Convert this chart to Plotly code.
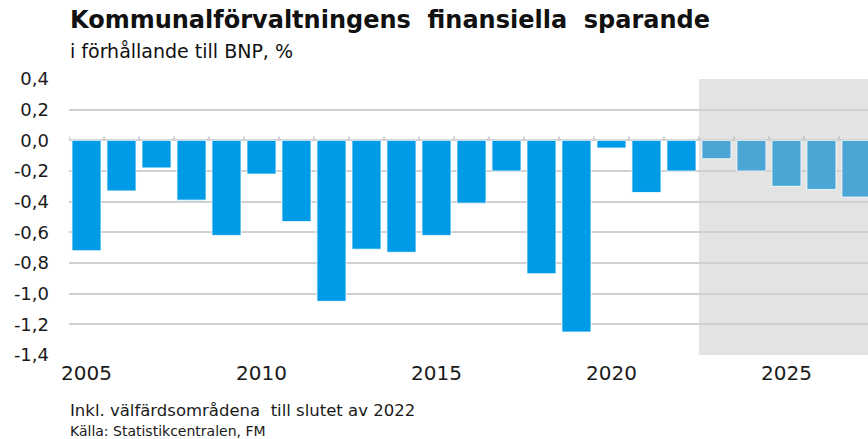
import plotly.graph_objects as go

# Kommunalförvaltningens finansiella sparande, % av BNP
years = list(range(2005, 2028))
sparande = [-0.72, -0.33, -0.18, -0.39, -0.62, -0.22, -0.53, -1.05, -0.71, -0.73,
            -0.62, -0.41, -0.20, -0.87, -1.25, -0.05, -0.34, -0.20,
            -0.12, -0.20, -0.30, -0.32, -0.37]
first_forecast_year = 2023

y_ticks = [0.4, 0.2, 0.0, -0.2, -0.4, -0.6, -0.8, -1.0, -1.2, -1.4]
y_ticklabels = ["0,4", "0,2", "0,0", "-0,2", "-0,4", "-0,6", "-0,8", "-1,0", "-1,2", "-1,4"]
x_ticks = [2005, 2010, 2015, 2020, 2025]

HIST = "#009BE6"
PROG = "#4BA6D6"
FONT = "DejaVu Sans, Arial, sans-serif"

colors = [PROG if y >= first_forecast_year else HIST for y in years]

fig = go.Figure()
fig.add_trace(go.Bar(x=years, y=sparande, marker_color=colors,
                     marker_line_color="rgba(255,255,255,0.8)", marker_line_width=1,
                     hoverinfo="x+y"))

x_end = 2027.33

# prognosperiod, grå bakgrund
fig.add_shape(type="rect", xref="x", yref="y", x0=first_forecast_year - 0.5, x1=x_end,
              y0=-1.4, y1=0.4, fillcolor="#e3e3e3", line_width=0, layer="below")

# små streck vid nollinjen mellan kategorierna
for y in years:
    fig.add_shape(type="line", xref="x", yref="y", x0=y - 0.5, x1=y - 0.5,
                  y0=0, y1=0.025, line=dict(color="#a8a8a8", width=1), layer="below")

fig.update_layout(
    width=868, height=439,
    margin=dict(l=69, r=0, t=79, b=84),
    plot_bgcolor="rgba(0,0,0,0)", paper_bgcolor="white",
    showlegend=False, bargap=0.17,
    font=dict(family=FONT, color="#1a1a1a"),
)
fig.update_xaxes(range=[2004.5, x_end], tickvals=x_ticks, ticks="", showgrid=False,
                 zeroline=False, showline=False, ticklabelstandoff=4,
                 tickfont=dict(size=20))
fig.update_yaxes(range=[-1.4, 0.4], tickvals=y_ticks, ticktext=y_ticklabels,
                 showgrid=True, gridcolor="#d0d0d0", gridwidth=1.5, zeroline=False,
                 ticks="", ticklabelstandoff=19, tickfont=dict(size=18))

fig.add_annotation(text="<b>Kommunalförvaltningens  finansiella  sparande</b>",
                   xref="paper", yref="paper", x=0, y=1, xanchor="left", yanchor="bottom",
                   yshift=44, borderpad=0, showarrow=False, font=dict(size=24, color="#111111"))
fig.add_annotation(text="i förhållande till BNP, %",
                   xref="paper", yref="paper", x=0, y=1, xanchor="left", yanchor="bottom",
                   yshift=16, borderpad=0, showarrow=False, font=dict(size=19, color="#111111"))
fig.add_annotation(text="Inkl. välfärdsområdena  till slutet av 2022",
                   xref="paper", yref="paper", x=0, y=0, xanchor="left", yanchor="top",
                   yshift=-45, borderpad=0, showarrow=False, font=dict(size=16.5, color="#1a1a1a"))
fig.add_annotation(text="Källa: Statistikcentralen, FM",
                   xref="paper", yref="paper", x=0, y=0, xanchor="left", yanchor="top",
                   yshift=-67, borderpad=0, showarrow=False, font=dict(size=14, color="#1a1a1a"))

# ingen sidmarginal runt figuren
fig.write_html("out.html", config={"displayModeBar": False},
               post_script="document.body.style.margin='0';document.body.style.overflow='hidden';")
